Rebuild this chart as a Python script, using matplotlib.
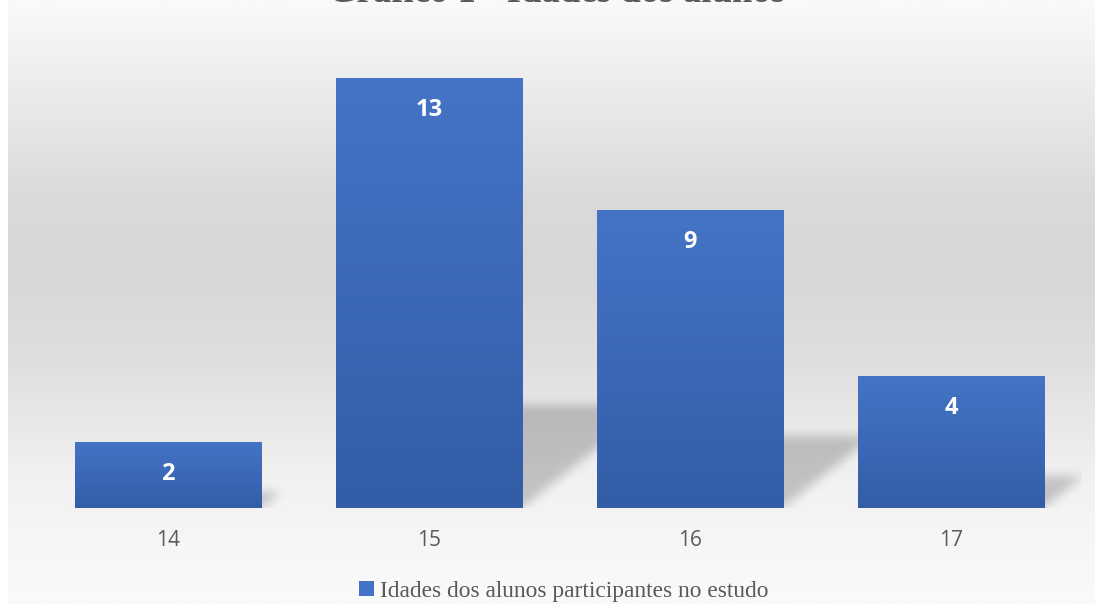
import numpy as np
import matplotlib

matplotlib.use("Agg")
from matplotlib import pyplot as plt
from matplotlib.colors import LinearSegmentedColormap
from matplotlib.patches import Patch
from matplotlib.path import Path


ages = ["14", "15", "16", "17"]
counts = [2, 13, 9, 4]
title = "Gráfico 1 - Idades dos alunos"
series_name = "Idades dos alunos participantes no estudo"

W, H, DPI = 1095, 604, 100
BAR_WIDTH = 0.713
YMAX = 14
TEXT_GREY = "#595959"


def gaussian_blur(img, sigma):
    radius = int(3 * sigma)
    k = np.exp(-0.5 * (np.arange(-radius, radius + 1) / sigma) ** 2)
    k /= k.sum()
    out = np.apply_along_axis(lambda r: np.convolve(r, k, mode="same"), 1, img)
    out = np.apply_along_axis(lambda c: np.convolve(c, k, mode="same"), 0, out)
    return out


fig = plt.figure(figsize=(W / DPI, H / DPI), dpi=DPI)
fig.patch.set_facecolor("white")

# background gradient (light at top/bottom, grey in the middle)
bg_ax = fig.add_axes([8 / W, 0, 1 - 8 / W, 1])
bg_ax.set_axis_off()
bg_cmap = LinearSegmentedColormap.from_list(
    "bg",
    [(0.0, "#fafafa"), (0.33, "#dadada"), (0.45, "#d7d7d7"), (0.6, "#dfdfdf"),
     (0.8, "#f2f2f2"), (1.0, "#fafafa")],
)
bg_ax.imshow(np.linspace(0, 1, 256).reshape(-1, 1), cmap=bg_cmap, aspect="auto",
             extent=[0, 1, 0, 1], origin="upper")
bg_ax.set_xlim(0, 1)
bg_ax.set_ylim(0, 1)

ax_left, ax_right = 37.5, 1081.5
ax_bottom, ax_top = 508, 45
ax = fig.add_axes([ax_left / W, (H - ax_bottom) / H,
                   (ax_right - ax_left) / W, (ax_bottom - ax_top) / H])
ax.patch.set_alpha(0)

x = np.arange(len(ages))
xlim = (-0.5, len(ages) - 0.5)

# perspective shadows behind the bars
px_w, px_h = int(ax_right - ax_left), int(ax_bottom - ax_top)
gx = np.linspace(xlim[0], xlim[1], px_w)
gy = np.linspace(YMAX, 0, px_h)
GX, GY = np.meshgrid(gx, gy)
pts = np.column_stack([GX.ravel(), GY.ravel()])
mask = np.zeros(GX.size)
for xi, v in zip(x, counts):
    x0, x1 = xi - BAR_WIDTH / 2, xi + BAR_WIDTH / 2
    dx, dy = 0.038 * v, 0.24 * v
    poly = Path([(x0, 0), (x1, 0), (x1 + dx, dy), (x0 + dx, dy), (x0, 0)])
    mask = np.maximum(mask, poly.contains_points(pts).astype(float))
mask = gaussian_blur(mask.reshape(px_h, px_w), 5)
shadow = np.zeros((px_h, px_w, 4))
shadow[..., 3] = mask * 0.2
ax.imshow(shadow, extent=[xlim[0], xlim[1], 0, YMAX], aspect="auto", zorder=1)

# bars with vertical gradient fill
bars = ax.bar(x, counts, width=BAR_WIDTH, color="none", edgecolor="none", zorder=2)
bar_cmap = LinearSegmentedColormap.from_list("bar", ["#335da7", "#4574c6"])
grad = np.linspace(1, 0, 100).reshape(-1, 1)
for bar in bars:
    bx, by = bar.get_x(), bar.get_y()
    im = ax.imshow(grad, cmap=bar_cmap, aspect="auto", zorder=2,
                   extent=[bx, bx + bar.get_width(), by, by + bar.get_height()])
    im.set_clip_path(bar)

for xi, v in zip(x, counts):
    ax.annotate(str(v), (xi, v), xytext=(0, -32), textcoords="offset pixels",
                ha="center", va="center", color="white", fontsize=17,
                fontweight="bold", family="Open Sans", zorder=3)

ax.set_xlim(*xlim)
ax.set_ylim(0, YMAX)
ax.set_xticks(x, ages)
ax.tick_params(axis="x", length=0, pad=16, labelsize=15, labelcolor=TEXT_GREY)
for lbl in ax.get_xticklabels():
    lbl.set_family("Open Sans")
ax.set_yticks([])
for spine in ax.spines.values():
    spine.set_visible(False)

fig.text(557 / W, 1 - 2 / H, title, ha="center", va="baseline",
         family="Liberation Serif", fontweight="bold", fontsize=26.5, color=TEXT_GREY)

fig.legend(handles=[Patch(facecolor="#4472c4", edgecolor="none", label=series_name)],
           loc="center", bbox_to_anchor=(563.5 / W, 1 - 591 / H), frameon=False,
           handlelength=0.65, handleheight=0.65, handletextpad=0.25,
           prop={"family": "Liberation Serif", "size": 16.8}, labelcolor=TEXT_GREY)

fig.savefig("out.png", dpi=DPI)
